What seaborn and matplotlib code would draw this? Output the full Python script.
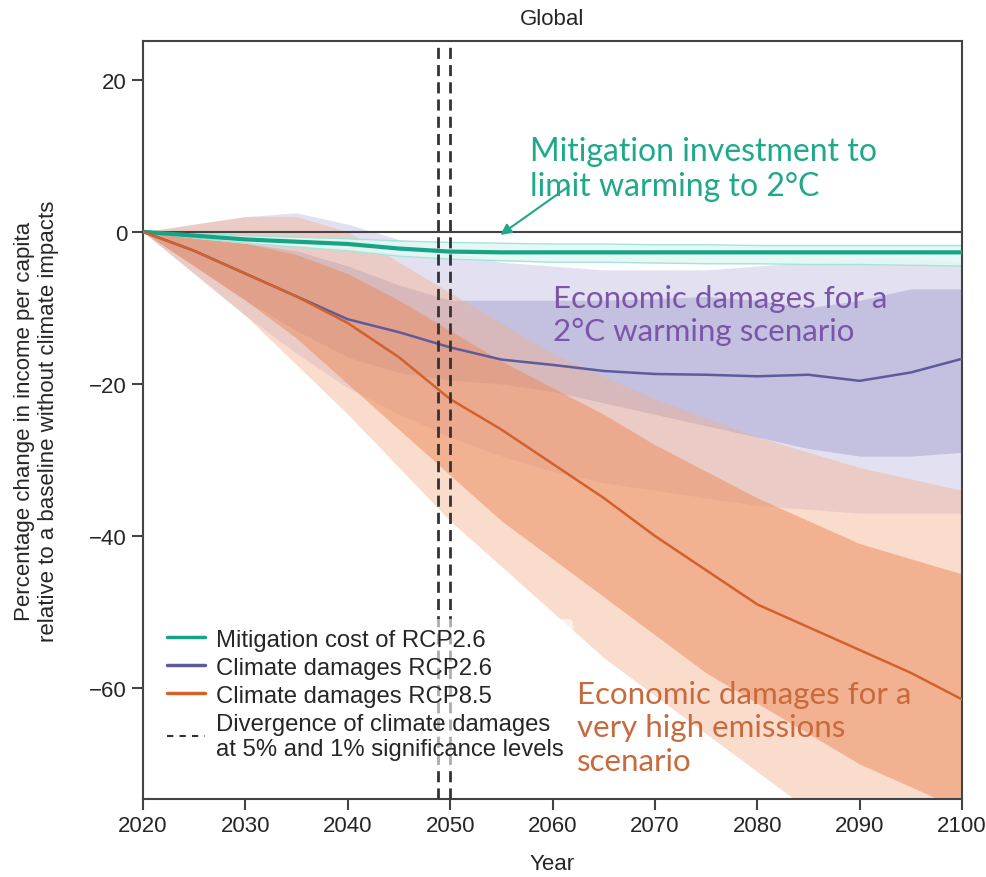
import pandas as pd
import seaborn as sns
import matplotlib.pyplot as plt
from matplotlib.lines import Line2D

# Data (percent change in income per capita)
years = [2020, 2025, 2030, 2035, 2040, 2045, 2050, 2055, 2060, 2065, 2070, 2075, 2080, 2085, 2090, 2095, 2100]

mitig_median = [0, -0.5, -1.0, -1.3, -1.6, -2.2, -2.6, -2.7, -2.7, -2.7, -2.7, -2.7, -2.7, -2.7, -2.7, -2.7, -2.7]
mitig_upper = [0, -0.2, -0.5, -0.7, -0.9, -1.2, -1.4, -1.5, -1.6, -1.6, -1.7, -1.7, -1.8, -1.8, -1.8, -1.8, -1.8]
mitig_lower = [0, -0.8, -1.5, -2.0, -2.5, -3.2, -3.6, -3.8, -4.0, -4.0, -4.1, -4.2, -4.2, -4.3, -4.3, -4.4, -4.5]

rcp26_median = [0, -2.5, -5.5, -8.5, -11.5, -13.2, -15.2, -16.8, -17.5, -18.3, -18.7, -18.8, -19.0, -18.8, -19.6, -18.5, -16.7]
rcp26_inner_up = [0, -0.5, -1.5, -2.5, -4.5, -7.0, -9.0, -9.0, -9.0, -9.0, -8.8, -8.5, -9.0, -10.0, -9.0, -7.5, -7.5]
rcp26_inner_lo = [0, -4.5, -9.0, -13.0, -16.5, -18.5, -19.5, -20.0, -21.0, -22.5, -24.0, -25.5, -27.0, -28.5, -29.5, -29.5, -29.0]
rcp26_outer_up = [0, 1.0, 2.0, 2.5, 1.0, -1.0, -2.5, -4.0, -4.5, -5.0, -5.0, -5.0, -4.5, -4.0, -3.5, -3.5, -4.0]
rcp26_outer_lo = [0, -5.5, -11.0, -16.0, -20.5, -24.0, -27.0, -29.5, -31.5, -33.0, -34.0, -35.0, -36.0, -36.5, -37.0, -37.0, -37.0]

rcp85_median = [0, -2.5, -5.5, -8.5, -12.0, -16.5, -22.0, -26.0, -30.5, -35.0, -40.0, -44.5, -49.0, -52.0, -55.0, -58.0, -61.5]
rcp85_inner_up = [0, -0.5, -1.5, -3.0, -5.5, -9.0, -13.0, -17.0, -20.5, -24.0, -28.0, -31.5, -35.0, -38.0, -41.0, -43.0, -45.0]
rcp85_inner_lo = [0, -4.5, -9.0, -14.0, -20.0, -26.0, -32.0, -38.0, -43.0, -48.0, -53.0, -58.0, -62.0, -66.0, -70.0, -73.0, -76.0]
rcp85_outer_up = [0, 1.0, 2.0, 2.0, 0.0, -4.0, -8.0, -12.0, -16.0, -19.0, -22.0, -24.5, -27.0, -29.0, -31.0, -32.5, -34.0]
rcp85_outer_lo = [0, -5.5, -11.0, -17.5, -24.0, -31.0, -38.0, -44.0, -50.0, -56.0, -61.0, -66.0, -71.0, -76.0, -80.0, -84.0, -88.0]

divergence_years = [2048.8, 2050.0]

series_names = ['Mitigation cost of RCP2.6', 'Climate damages RCP2.6', 'Climate damages RCP8.5']
colors = {'Mitigation cost of RCP2.6': '#17a385',
          'Climate damages RCP2.6': '#5d5b9c',
          'Climate damages RCP8.5': '#d2612c'}

df = pd.concat([
    pd.DataFrame({'Year': years, 'value': mitig_median, 'series': series_names[0]}),
    pd.DataFrame({'Year': years, 'value': rcp26_median, 'series': series_names[1]}),
    pd.DataFrame({'Year': years, 'value': rcp85_median, 'series': series_names[2]}),
])

sns.set_style('ticks')
plt.rcParams['font.family'] = ['Liberation Sans', 'DejaVu Sans']

fig = plt.figure(figsize=(9.87, 8.78), dpi=100)
ax = fig.add_axes([0.1449, 0.0888, 0.8298, 0.8634])

# uncertainty bands (purple underneath, orange on top)
ax.fill_between(years, rcp26_outer_lo, rcp26_outer_up, color='#b9b6dc', alpha=0.4, lw=0)
ax.fill_between(years, rcp26_inner_lo, rcp26_inner_up, color='#9d98cc', alpha=0.45, lw=0)
ax.fill_between(years, rcp85_outer_lo, rcp85_outer_up, color='#f5ad88', alpha=0.42, lw=0)
ax.fill_between(years, rcp85_inner_lo, rcp85_inner_up, color='#ec8a58', alpha=0.5, lw=0)
ax.fill_between(years, mitig_lower, mitig_upper, color='#e2f8f5', alpha=0.9, lw=0)
ax.plot(years, mitig_upper, color='#a5e3d8', lw=1)
ax.plot(years, mitig_lower, color='#a5e3d8', lw=1)

ax.axhline(0, color='#444444', lw=1.5, zorder=3)

sns.lineplot(data=df, x='Year', y='value', hue='series', palette=colors, ax=ax,
             linewidth=1.8, legend=False, zorder=4)
ax.lines[-3].set_linewidth(3)

for yr in divergence_years:
    ax.axvline(yr, color='#333333', lw=2, ls=(0, (4, 2.2)), zorder=5)

ax.set_xlim(2020, 2100)
ax.set_ylim(-74.6, 25.1)
ax.set_xticks(range(2020, 2101, 10))
ax.set_yticks([-60, -40, -20, 0, 20])
ax.tick_params(axis='both', labelsize=16, length=8, width=1.5, color='#444444', direction='out')
for s in ax.spines.values():
    s.set_color('#444444')
    s.set_linewidth(1.5)

ax.set_xlabel('Year', fontsize=16, labelpad=12)
ax.set_ylabel('Percentage change in income per capita\nrelative to a baseline without climate impacts',
              fontsize=16, labelpad=22)
ax.set_title('Global', fontsize=16, pad=12)

# legend
handles = [Line2D([], [], color=colors[n], lw=2.5) for n in series_names]
handles.append(Line2D([], [], color='#333333', lw=1.5, ls=(0, (3, 3))))
labels = series_names + ['Divergence of climate damages\nat 5% and 1% significance levels']
leg = ax.legend(handles, labels, loc='lower left', bbox_to_anchor=(0.0, 0.02), fontsize=17.2,
                frameon=True, facecolor='white', framealpha=0.6, edgecolor='none',
                handlelength=1.6, handletextpad=0.45, borderaxespad=0.6, labelspacing=0.25)
leg.get_texts()[3].set_multialignment('left')
leg.set_zorder(6)

# annotations
lato = ['Lato', 'DejaVu Sans']
ax.text(2057.8, 12.6, 'Mitigation investment to\nlimit warming to 2°C', fontsize=23,
        color='#1fa88a', family=lato, ha='left', va='top', linespacing=1.22)
ax.annotate('', xy=(2054.9, -0.4), xytext=(2061.6, 6.0),
            arrowprops=dict(arrowstyle='-|>', color='#1fa88a', lw=1.5, shrinkA=0, shrinkB=0,
                            mutation_scale=16))
ax.text(2060.0, -6.8, 'Economic damages for a\n2°C warming scenario', fontsize=22.5,
        color='#7a55a8', family=lato, ha='left', va='top', linespacing=1.22)
ax.text(2062.4, -59.0, 'Economic damages for a\nvery high emissions\nscenario', fontsize=22.5,
        color='#c86a3c', family=lato, ha='left', va='top', linespacing=1.22)

fig.savefig('out.png', dpi=100)
